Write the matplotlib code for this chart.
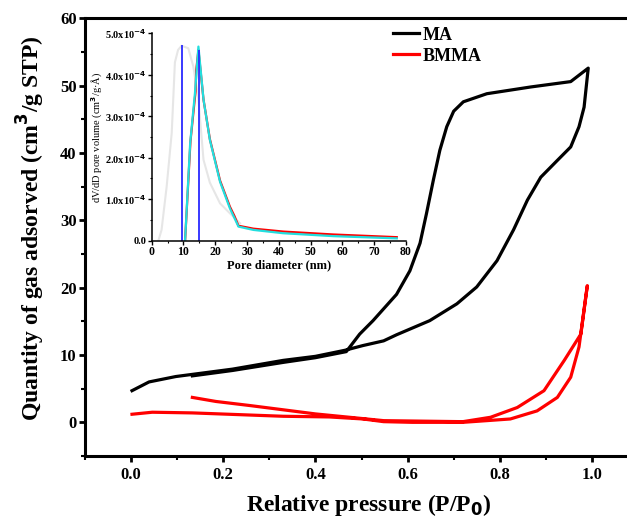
import numpy as np
import matplotlib
matplotlib.use("Agg")
from matplotlib import pyplot as plt
from matplotlib.ticker import MultipleLocator, FuncFormatter

plt.rcParams['font.family'] = ['Liberation Serif', 'DejaVu Serif']
plt.rcParams['font.weight'] = 'bold'

# MA isotherm (adsorption then desorption branch)
ma_ads_p = [0.002, 0.039, 0.097, 0.22, 0.33, 0.40, 0.464, 0.503, 0.548, 0.576, 0.648, 0.707,
            0.75, 0.794, 0.83, 0.86, 0.889, 0.925, 0.954, 0.972, 0.983, 0.992]
ma_ads_q = [4.7, 6.0, 6.8, 7.9, 9.2, 9.8, 10.7, 11.4, 12.1, 13.0, 15.1, 17.6,
            20.1, 24.0, 28.6, 33.0, 36.4, 38.9, 40.9, 43.9, 46.8, 52.6]
ma_des_p = [0.992, 0.954, 0.867, 0.772, 0.721, 0.70, 0.685, 0.67, 0.656, 0.641, 0.627, 0.605,
            0.576, 0.525, 0.496, 0.467, 0.40, 0.33, 0.22, 0.133]
ma_des_q = [52.6, 50.6, 49.8, 48.8, 47.6, 46.2, 43.9, 40.4, 36.0, 31.0, 26.6, 22.5,
            19.0, 15.1, 13.1, 10.5, 9.6, 8.9, 7.7, 6.9]

# BMMA isotherm
bm_ads_p = [0.002, 0.046, 0.133, 0.33, 0.43, 0.503, 0.548, 0.61, 0.72, 0.823, 0.881, 0.925,
            0.954, 0.972, 0.99]
bm_ads_q = [1.2, 1.5, 1.4, 0.9, 0.8, 0.5, 0.1, 0.0, 0.0, 0.5, 1.7, 3.7, 6.7, 11.2, 20.3]
bm_des_p = [0.99, 0.976, 0.94, 0.896, 0.838, 0.78, 0.72, 0.548, 0.40, 0.257, 0.184, 0.133]
bm_des_q = [20.3, 13.1, 9.2, 4.7, 2.2, 0.75, 0.1, 0.25, 1.25, 2.5, 3.1, 3.7]

# inset: pore size distribution (units of 1e-4)
gray_d = [2.1, 3.1, 4.7, 6.3, 7.3, 8.3, 9.4, 11.5, 13.1, 14.7, 16.3, 18.3, 21.5, 24.6, 27.8]
gray_v = [0.0, 0.26, 1.3, 2.6, 4.3, 4.6, 4.7, 4.64, 4.2, 3.4, 1.95, 1.4, 0.9, 0.66, 0.42]
red_d = [10.5, 12.2, 13.8, 14.0, 14.7, 16.3, 18.3, 21.5, 24.6, 26.0, 27.3, 32.0, 41.4, 57.1, 77.1]
red_v = [0.0, 2.4, 3.6, 4.1, 4.6, 3.4, 2.45, 1.45, 0.82, 0.6, 0.36, 0.29, 0.22, 0.15, 0.085]
cyan_d = [10.5, 12.1, 13.6, 14.7, 16.3, 18.3, 21.5, 24.6, 27.3, 32.0, 41.4, 57.1, 77.1]
cyan_v = [0.0, 2.35, 3.55, 4.68, 3.4, 2.43, 1.42, 0.78, 0.34, 0.26, 0.18, 0.11, 0.056]
blue_d = [9.4, 15.0]
blue_top = [4.72, 4.6]

fig = plt.figure(figsize=(6.27, 5.2), dpi=100)
ax = fig.add_axes([85 / 627, 1 - 456 / 520, (638 - 85) / 627, (456 - 18.3) / 520])

ax.plot(ma_ads_p + ma_des_p, ma_ads_q + ma_des_q, color='black', lw=2.3, label='MA')
ax.plot(bm_ads_p + bm_des_p, bm_ads_q + bm_des_q, color='red', lw=2.3, label='BMMA')

ax.set_xlim(-0.1, 1.1)
ax.set_ylim(-5, 60)
ax.xaxis.set_major_locator(MultipleLocator(0.2))
ax.xaxis.set_minor_locator(MultipleLocator(0.1))
ax.yaxis.set_major_locator(MultipleLocator(10))
ax.yaxis.set_minor_locator(MultipleLocator(5))
ax.xaxis.set_major_formatter(FuncFormatter(lambda v, p: '%.1f' % v))
for s in ax.spines.values():
    s.set_linewidth(2.2)
ax.tick_params(which='major', length=4, width=2, labelsize=12)
ax.tick_params(which='minor', length=3, width=1.5)
ax.tick_params(axis='x', pad=4)
ax.tick_params(axis='y', pad=2)
ax.set_xlabel('Relative pressure (P/P$_\\mathbf{0}$)', fontsize=17, fontweight='bold')
ax.xaxis.set_label_coords(0.5136, -0.082)
ax.set_ylabel('Quantity of gas adsorved (cm$^\\mathbf{3}$/g STP)', fontsize=17, fontweight='bold')
ax.yaxis.set_label_coords(-0.068, 0.52)
ax.legend(loc='upper left', bbox_to_anchor=(0.535, 1.01), frameon=False, fontsize=13,
          handlelength=1.4, handletextpad=0.2, labelspacing=0.22, borderaxespad=0.3)

ins = fig.add_axes([151.7 / 627, 1 - 240.7 / 520, (406 - 151.7) / 627, (240.7 - 33.3) / 520])
ins.patch.set_alpha(0)
ins.plot(gray_d, np.array(gray_v) * 1e-4, color='#e6e6e6', lw=1.5)
ins.plot(red_d, np.array(red_v) * 1e-4, color='red', lw=1.6)
ins.plot(cyan_d, np.array(cyan_v) * 1e-4, color='#22dede', lw=1.6)
ins.vlines(blue_d, 0, np.array(blue_top) * 1e-4, color='#2a2aff', lw=1.3)
ins.set_xlim(0, 80)
ins.set_ylim(0, 5e-4)
ins.spines['top'].set_visible(False)
ins.spines['right'].set_visible(False)
for s in ['left', 'bottom']:
    ins.spines[s].set_linewidth(1.1)
ins.xaxis.set_major_locator(MultipleLocator(10))
ins.xaxis.set_minor_locator(MultipleLocator(5))
ins.yaxis.set_major_locator(MultipleLocator(1e-4))
ins.yaxis.set_minor_locator(MultipleLocator(0.5e-4))
ins.yaxis.set_major_formatter(FuncFormatter(
    lambda v, p: '0.0' if abs(v) < 1e-9 else '%.1fx10$^{\\mathbf{-4}}$' % (v * 1e4)))
ins.tick_params(which='major', length=3, width=1, labelsize=7.5, pad=1)
ins.tick_params(axis='x', labelsize=8.5)
ins.tick_params(which='minor', length=1.5, width=0.8)
ins.set_xlabel('Pore diameter (nm)', fontsize=9, fontweight='bold', labelpad=1)
ins.set_ylabel('dV/dD pore volume (cm$^3$/g·Å)', fontsize=7.5, fontweight='normal')
ins.yaxis.set_label_coords(-0.185, 0.5)

fig.savefig('out.png', dpi=100)
